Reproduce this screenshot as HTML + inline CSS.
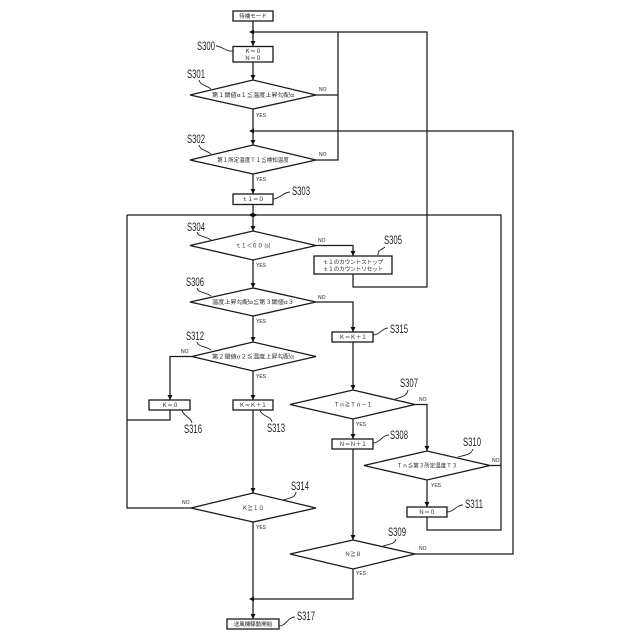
<!DOCTYPE html>
<html>
<head>
<meta charset="utf-8">
<style>
html,body{margin:0;padding:0;background:#fff;width:640px;height:640px;overflow:hidden}
svg{display:block}
text{font-family:"Noto Sans CJK JP","Liberation Sans",sans-serif;fill:#222}
.t{font-size:5.5px;text-anchor:middle}
.s{font-family:"Liberation Sans",sans-serif;font-size:11.5px}
.y{font-family:"Liberation Sans",sans-serif;font-size:5px}
.l{fill:none;stroke:#1a1a1a;stroke-width:1.25}
.b{fill:#fff;stroke:#1a1a1a;stroke-width:1.3}
.c{fill:none;stroke:#222;stroke-width:.9}
.a{fill:#111;stroke:none}
</style>
</head>
<body>
<svg width="640" height="640" viewBox="0 0 640 640" xmlns="http://www.w3.org/2000/svg">
<!-- connectors -->
<path class="l" d="M253 21V46M253 62V80M253 109V145M253 174V194M253 204.500V231M253 260V288M253 316V342M253 371V400M253 410V493M253 522V619"/>
<path class="l" d="M253 32H427V287H353V274"/>
<path class="l" d="M316 95H338M338 32V160H316"/>
<path class="l" d="M253 131H513V554H415"/>
<path class="l" d="M127 215H501V530H427V517"/>
<path class="l" d="M490 465.500H501"/>
<path class="l" d="M316 245.500H353V256"/>
<path class="l" d="M316 302H353V332M353 342V390M353 419V439M353 449V540M353 569V599H253"/>
<path class="l" d="M192 356.500H170V400M170 410V420H127"/>
<path class="l" d="M127 215V508H191"/>
<path class="l" d="M415 404.500H427V451M427 480V507"/>
<!-- arrowheads -->
<path class="a" d="M249 32L254 29.500V34.500Z"/>
<path class="a" d="M249 131L254 128.500V133.500Z"/>
<path class="a" d="M257.500 215L252.500 212.500V217.500Z"/>
<path class="a" d="M248.500 215L253.500 212.500V217.500Z"/>
<path class="a" d="M249 599L254 596.500V601.500Z"/>
<path class="a" d="M253 46L250.500 41H255.500Z"/>
<path class="a" d="M253 80L250.500 75H255.500Z"/>
<path class="a" d="M253 145L250.500 140H255.500Z"/>
<path class="a" d="M253 194L250.500 189H255.500Z"/>
<path class="a" d="M253 231L250.500 226H255.500Z"/>
<path class="a" d="M253 288L250.500 283H255.500Z"/>
<path class="a" d="M253 342L250.500 337H255.500Z"/>
<path class="a" d="M253 400L250.500 395H255.500Z"/>
<path class="a" d="M253 493L250.500 488H255.500Z"/>
<path class="a" d="M253 619L250.500 614H255.500Z"/>
<path class="a" d="M170 400L167.500 395H172.500Z"/>
<path class="a" d="M353 256L350.500 251H355.500Z"/>
<path class="a" d="M353 332L350.500 327H355.500Z"/>
<path class="a" d="M353 390L350.500 385H355.500Z"/>
<path class="a" d="M353 439L350.500 434H355.500Z"/>
<path class="a" d="M353 540L350.500 535H355.500Z"/>
<path class="a" d="M427 451L424.500 446H429.500Z"/>
<path class="a" d="M427 507L424.500 502H429.500Z"/>
<!-- boxes -->
<rect class="b" x="233" y="11" width="40" height="10"/>
<rect class="b" x="233" y="46.500" width="40" height="15.500"/>
<rect class="b" x="233" y="194" width="40" height="10.500"/>
<rect class="b" x="314" y="256" width="78" height="18"/>
<rect class="b" x="332" y="332" width="41" height="10"/>
<rect class="b" x="149" y="400" width="41" height="10"/>
<rect class="b" x="233" y="400" width="40" height="10"/>
<rect class="b" x="332" y="439" width="41" height="10"/>
<rect class="b" x="407" y="507" width="40" height="10"/>
<rect class="b" x="227" y="619" width="52" height="10"/>
<!-- diamonds -->
<polygon class="b" points="190,95 253,80 316,95 253,109"/>
<polygon class="b" points="190,160 253,145 316,160 253,174"/>
<polygon class="b" points="190,245.500 253,231 316,245.500 253,260"/>
<polygon class="b" points="190,302 253,288 316,302 253,316"/>
<polygon class="b" points="192,356.500 253,342 316,356.500 253,371"/>
<polygon class="b" points="191,508 253,493 316,508 253,522"/>
<polygon class="b" points="290,404.500 353,390 415,404.500 353,419"/>
<polygon class="b" points="364,465.500 427,451 490,465.500 427,480"/>
<polygon class="b" points="290,554 353,540 415,554 353,569"/>
<!-- node text -->
<text class="t" x="253" y="18">待機モード</text>
<text class="t" x="253" y="53">&#xFF2B;&#xFF1D;&#xFF10;</text>
<text class="t" x="253" y="60">&#xFF2E;&#xFF1D;&#xFF10;</text>
<text class="t" x="253" y="97" textLength="82" lengthAdjust="spacingAndGlyphs">第&#xFF11;閾値α&#xFF11;≦温度上昇勾配α</text>
<text class="t" x="253" y="162">第&#xFF11;所定温度&#xFF34;&#xFF11;≦検知温度</text>
<text class="t" x="253" y="201">&#xFF54;&#xFF11;&#xFF1D;&#xFF10;</text>
<text class="t" x="253" y="247.500">&#xFF54;&#xFF11;&#xFF1C;&#xFF16;&#xFF10; (s)</text>
<text class="t" x="353" y="264">&#xFF54;&#xFF11;のカウントストップ</text>
<text class="t" x="353" y="271">&#xFF54;&#xFF11;のカウントリセット</text>
<text class="t" x="253" y="304" textLength="82" lengthAdjust="spacingAndGlyphs">温度上昇勾配α≦第&#xFF13;閾値α&#xFF13;</text>
<text class="t" x="253" y="358.500" textLength="82" lengthAdjust="spacingAndGlyphs">第&#xFF12;閾値α&#xFF12;≦温度上昇勾配α</text>
<text class="t" x="353" y="339">&#xFF2B;&#xFF1D;&#xFF2B;&#xFF0B;&#xFF11;</text>
<text class="t" x="170" y="407">&#xFF2B;&#xFF1D;&#xFF10;</text>
<text class="t" x="253" y="407">&#xFF2B;&#xFF1D;&#xFF2B;&#xFF0B;&#xFF11;</text>
<text class="t" x="253" y="510">&#xFF2B;≧&#xFF11;&#xFF10;</text>
<text class="t" x="353" y="406.500">&#xFF34;&#xFF4E;≧&#xFF34;&#xFF4E;&#xFF0D;&#xFF11;</text>
<text class="t" x="353" y="446">&#xFF2E;&#xFF1D;&#xFF2E;&#xFF0B;&#xFF11;</text>
<text class="t" x="427" y="467.500">&#xFF34;&#xFF4E;≦第&#xFF13;所定温度&#xFF34;&#xFF13;</text>
<text class="t" x="427" y="514">&#xFF2E;&#xFF1D;&#xFF10;</text>
<text class="t" x="353" y="556">&#xFF2E;≧&#xFF18;</text>
<text class="t" x="253" y="626">送風機駆動開始</text>
<!-- YES / NO -->
<text class="y" x="319" y="91">NO</text>
<text class="y" x="319" y="156">NO</text>
<text class="y" x="318" y="242">NO</text>
<text class="y" x="318" y="299">NO</text>
<text class="y" x="181" y="353">NO</text>
<text class="y" x="182" y="504">NO</text>
<text class="y" x="419" y="401">NO</text>
<text class="y" x="492" y="462">NO</text>
<text class="y" x="419" y="550">NO</text>
<text class="y" x="256" y="117">YES</text>
<text class="y" x="256" y="181">YES</text>
<text class="y" x="256" y="267">YES</text>
<text class="y" x="256" y="323">YES</text>
<text class="y" x="256" y="378">YES</text>
<text class="y" x="256" y="529">YES</text>
<text class="y" x="356" y="426">YES</text>
<text class="y" x="431" y="487">YES</text>
<text class="y" x="356" y="575">YES</text>
<!-- step labels -->
<text class="s" x="197" y="50" textLength="18" lengthAdjust="spacingAndGlyphs">S300</text>
<text class="s" x="187" y="78" textLength="18" lengthAdjust="spacingAndGlyphs">S301</text>
<text class="s" x="187" y="143" textLength="18" lengthAdjust="spacingAndGlyphs">S302</text>
<text class="s" x="292" y="195" textLength="18" lengthAdjust="spacingAndGlyphs">S303</text>
<text class="s" x="187" y="231" textLength="18" lengthAdjust="spacingAndGlyphs">S304</text>
<text class="s" x="384" y="244" textLength="18" lengthAdjust="spacingAndGlyphs">S305</text>
<text class="s" x="186" y="286" textLength="18" lengthAdjust="spacingAndGlyphs">S306</text>
<text class="s" x="186" y="340" textLength="18" lengthAdjust="spacingAndGlyphs">S312</text>
<text class="s" x="390" y="333" textLength="18" lengthAdjust="spacingAndGlyphs">S315</text>
<text class="s" x="400" y="387" textLength="18" lengthAdjust="spacingAndGlyphs">S307</text>
<text class="s" x="390" y="439" textLength="18" lengthAdjust="spacingAndGlyphs">S308</text>
<text class="s" x="463" y="446" textLength="18" lengthAdjust="spacingAndGlyphs">S310</text>
<text class="s" x="465" y="508" textLength="18" lengthAdjust="spacingAndGlyphs">S311</text>
<text class="s" x="388" y="536" textLength="18" lengthAdjust="spacingAndGlyphs">S309</text>
<text class="s" x="291" y="490" textLength="18" lengthAdjust="spacingAndGlyphs">S314</text>
<text class="s" x="184" y="433" textLength="18" lengthAdjust="spacingAndGlyphs">S316</text>
<text class="s" x="267" y="432" textLength="18" lengthAdjust="spacingAndGlyphs">S313</text>
<text class="s" x="297" y="620" textLength="18" lengthAdjust="spacingAndGlyphs">S317</text>
<!-- leaders -->
<path class="c" d="M216 46C222 46 226 52 233 51"/>
<path class="c" d="M199 80C200 85 206 85 211 89"/>
<path class="c" d="M199 145C200 150 206 150 211 154"/>
<path class="c" d="M273 199C280 199 283 192 290 192"/>
<path class="c" d="M197 232C198 237 206 236 211 240"/>
<path class="c" d="M378 255C378 249 382 250 385 247"/>
<path class="c" d="M197 288C198 293 206 292 211 296"/>
<path class="c" d="M197 342C198 347 206 346 211 350"/>
<path class="c" d="M373 335C380 335 382 328 388 328"/>
<path class="c" d="M395 399C402 397 407 396 408 390"/>
<path class="c" d="M373 443C380 443 382 435 389 435"/>
<path class="c" d="M458 457C465 455 471 455 473 449"/>
<path class="c" d="M447 512C454 512 456 505 463 505"/>
<path class="c" d="M383 546C390 544 395 544 396 539"/>
<path class="c" d="M283 500C290 498 295 498 296 492"/>
<path class="c" d="M182 410C183 416 191 417 192 423"/>
<path class="c" d="M260 410C261 416 271 416 272 422"/>
<path class="c" d="M279 626C286 626 288 617 295 617"/>
</svg>
</body>
</html>
